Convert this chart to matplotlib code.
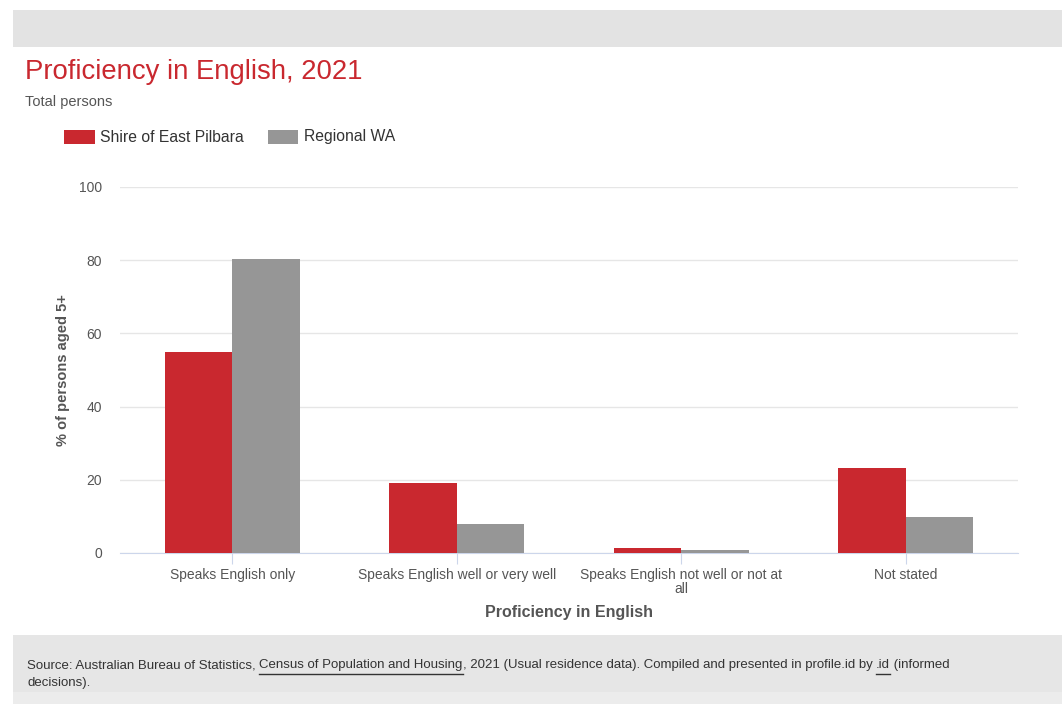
import numpy as np
import matplotlib
matplotlib.use('Agg')
import matplotlib.pyplot as plt
from matplotlib.patches import Rectangle

plt.rcParams['font.family'] = ['Liberation Sans', 'DejaVu Sans']

# Data
categories = ['Speaks English only', 'Speaks English well or very well',
              'Speaks English not well or not at\nall', 'Not stated']
east_pilbara = [55.0, 19.1, 1.4, 23.2]
regional_wa = [80.3, 7.9, 0.8, 9.8]
series_names = ['Shire of East Pilbara', 'Regional WA']
y_ticks = [0, 20, 40, 60, 80, 100]

red = '#c9282f'
grey = '#969696'

fig = plt.figure(figsize=(10.62, 7.04), dpi=100)
fig.patch.set_facecolor('white')

# page background bands
fig.add_artist(Rectangle((13/1062, 1 - 47/704), 1, 37/704, transform=fig.transFigure,
                         facecolor='#e3e3e3', edgecolor='none', zorder=0))
fig.add_artist(Rectangle((13/1062, 0), 1, 69/704, transform=fig.transFigure,
                         facecolor='#e6e6e6', edgecolor='none', zorder=0))
fig.add_artist(Rectangle((13/1062, 0), 1, 12/704, transform=fig.transFigure,
                         facecolor='#ececec', edgecolor='none', zorder=0))

ax = fig.add_axes([120/1062, 1 - 553/704, 898/1062, 366/704])
x = np.arange(len(categories))
w = 0.3
ax.bar(x - w/2, east_pilbara, w, color=red, label=series_names[0], zorder=3)
ax.bar(x + w/2, regional_wa, w, color=grey, label=series_names[1], zorder=3)

ax.set_xlim(-0.5, len(categories) - 0.5)
ax.set_ylim(0, 100)
ax.set_yticks(y_ticks)
ax.set_xticks(x)
ax.set_xticklabels(categories, fontsize=10, color='#555555', linespacing=1.0)
ax.tick_params(axis='y', length=0, pad=13, labelsize=10, labelcolor='#555555')
ax.tick_params(axis='x', length=8, color='#ccd6eb', pad=3)
ax.grid(axis='y', color='#e6e6e6', linewidth=1, zorder=0)
for s in ['top', 'right', 'left']:
    ax.spines[s].set_visible(False)
ax.spines['bottom'].set_color('#ccd6eb')

ax.set_ylabel('% of persons aged 5+', fontsize=10.5, fontweight='bold', color='#555555', labelpad=6)
ax.set_xlabel('Proficiency in English', fontsize=11.5, fontweight='bold', color='#555555', labelpad=6)

# titles
fig.text(25/1062, 1 - 72/704, 'Proficiency in English, 2021', fontsize=19.8, color='#c9282f', va='center')
fig.text(25/1062, 1 - 102/704, 'Total persons', fontsize=10.5, color='#555555', va='center')

# legend
fig.add_artist(Rectangle((64/1062, 1 - 144/704), 31/1062, 14/704, transform=fig.transFigure,
                         facecolor=red, edgecolor='none'))
fig.text(100/1062, 1 - 137/704, series_names[0], fontsize=11.3, color='#333333', va='center')
fig.add_artist(Rectangle((268/1062, 1 - 144/704), 30/1062, 14/704, transform=fig.transFigure,
                         facecolor=grey, edgecolor='none'))
fig.text(304/1062, 1 - 137/704, series_names[1], fontsize=11.3, color='#333333', va='center')

# footer source line with underlined links
renderer = fig.canvas.get_renderer()
parts = [('Source: Australian Bureau of Statistics, ', False),
         ('Census of Population and Housing', True),
         (', 2021 (Usual residence data). Compiled and presented in profile.id by ', False),
         ('.id', True),
         (' (informed', False)]
xpos = 27
ypos = 665
for txt, link in parts:
    t = fig.text(xpos/1062, 1 - ypos/704, txt, fontsize=9.5, color='#333333', va='center')
    bb = t.get_window_extent(renderer)
    if link:
        fig.add_artist(plt.Line2D([bb.x0/1062, bb.x1/1062], [1 - (ypos + 9)/704] * 2,
                                  transform=fig.transFigure, color='#333333', linewidth=1))
    xpos += bb.width
fig.text(27/1062, 1 - 683/704, 'decisions).', fontsize=9.5, color='#333333', va='center')

fig.savefig('out.png', dpi=100)
